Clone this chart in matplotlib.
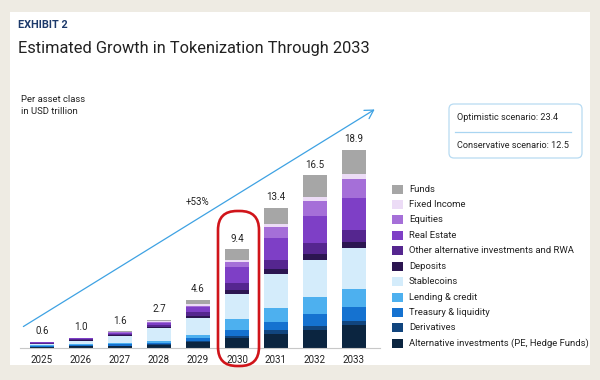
import numpy as np
import matplotlib
matplotlib.use('Agg')
from matplotlib import pyplot as plt
from matplotlib.patches import Rectangle, FancyBboxPatch

plt.rcParams['font.family'] = ['Roboto', 'DejaVu Sans']

years = ['2025', '2026', '2027', '2028', '2029', '2030', '2031', '2032', '2033']
totals = [0.6, 1.0, 1.6, 2.7, 4.6, 9.4, 13.4, 16.5, 18.9]

# stacked bottom -> top
alt_inv  = [0.10, 0.15, 0.20, 0.29, 0.57, 0.95, 1.34, 1.72, 2.20]
deriv    = [0.02, 0.02, 0.03, 0.05, 0.10, 0.15, 0.38, 0.38, 0.40]
treasury = [0.08, 0.10, 0.12, 0.18, 0.31, 0.64, 0.76, 1.15, 1.27]
lending  = [0.05, 0.08, 0.10, 0.15, 0.29, 1.00, 1.37, 1.65, 1.78]
stable   = [0.15, 0.35, 0.72, 1.20, 1.62, 2.45, 3.22, 3.48, 3.88]
deposits = [0.02, 0.03, 0.05, 0.09, 0.12, 0.38, 0.45, 0.57, 0.57]
other    = [0.06, 0.10, 0.12, 0.19, 0.40, 0.62, 0.89, 1.06, 1.17]
real_est = [0.05, 0.08, 0.12, 0.21, 0.47, 1.57, 2.13, 2.55, 3.08]
equities = [0.03, 0.04, 0.06, 0.11, 0.15, 0.41, 1.05, 1.50, 1.78]
fixed    = [0.02, 0.03, 0.04, 0.08, 0.15, 0.23, 0.25, 0.37, 0.45]
funds    = [0.02, 0.02, 0.04, 0.15, 0.42, 1.00, 1.56, 2.07, 2.32]

series = [alt_inv, deriv, treasury, lending, stable, deposits, other,
          real_est, equities, fixed, funds]
labels = ['Alternative investments (PE, Hedge Funds)', 'Derivatives',
          'Treasury & liquidity', 'Lending & credit', 'Stablecoins', 'Deposits',
          'Other alternative investments and RWA', 'Real Estate', 'Equities',
          'Fixed Income', 'Funds']
colors = ['#0b2540', '#11457e', '#1572d0', '#4db0ef', '#d4ecfb', '#2c1651',
          '#55268f', '#7e3fc6', '#a56fd8', '#ecdcf6', '#a6a6a6']

scen_opt = 23.4
scen_con = 12.5

fig = plt.figure(figsize=(6, 3.8), dpi=100)
fig.patch.set_facecolor('#eeebe3')

# background panel
bg = fig.add_axes([0, 0, 1, 1], zorder=0)
bg.set_xlim(0, 600); bg.set_ylim(380, 0); bg.axis('off')
bg.add_patch(Rectangle((10, 12), 580, 353, facecolor='white', edgecolor='none'))

# bars
ax = fig.add_axes([20/600, 32/380, 360/600, 318/380], zorder=1)
ax.patch.set_alpha(0)
x = np.arange(len(years))
bottom = np.zeros(len(years))
for vals, col in zip(series, colors):
    ax.bar(x, vals, width=0.62, bottom=bottom, color=col, edgecolor='none')
    bottom += np.array(vals)
for xi, t in zip(x, totals):
    ax.annotate(f'{t:.1f}', (xi, bottom[xi]), xytext=(0, 4), textcoords='offset points',
                ha='center', va='bottom', fontsize=7, color='#222222')
ax.set_xlim(-0.564, 8.667)
ax.set_ylim(0, 30.34)
ax.set_xticks(x)
ax.set_xticklabels(years, fontsize=7, color='#222222')
ax.tick_params(axis='x', length=0, pad=5)
ax.set_yticks([])
for s in ['top', 'right', 'left']:
    ax.spines[s].set_visible(False)
ax.spines['bottom'].set_color('#c8c8c8')
ax.spines['bottom'].set_linewidth(0.8)

# overlay
ov = fig.add_axes([0, 0, 1, 1], zorder=2)
ov.patch.set_alpha(0)
ov.set_xlim(0, 600); ov.set_ylim(380, 0); ov.axis('off')

ov.text(18, 24.5, 'EXHIBIT 2', fontsize=7.8, fontweight='bold', color='#1d3a6b', va='center')
ov.text(18, 48, 'Estimated Growth in Tokenization Through 2033', fontsize=11.8,
        fontweight='normal', color='#222222', va='center')
ov.text(21, 100, 'Per asset class', fontsize=6.8, color='#222222', va='center')
ov.text(21, 111, 'in USD trillion', fontsize=6.8, color='#222222', va='center')

ov.annotate('', xy=(377, 108), xytext=(21, 328),
            arrowprops=dict(arrowstyle='->,head_length=0.6,head_width=0.35',
                            color='#3ea2e3', lw=0.9))
ov.text(198, 202, '+53%', fontsize=7, color='#222222', ha='center', va='center')

# red highlight loop
ov.add_patch(FancyBboxPatch((218, 211), 41, 155, boxstyle='round,pad=0,rounding_size=19',
                            facecolor='none', edgecolor='#d0141a', lw=1.9))

# scenario box
ov.add_patch(FancyBboxPatch((449, 104), 133, 54, boxstyle='round,pad=0,rounding_size=5',
                            facecolor='white', edgecolor='#b8dbf2', lw=0.9))
ov.plot([455, 571], [131.5, 131.5], color='#a9d5f1', lw=0.9)
ov.text(457, 118, f'Optimistic scenario: {scen_opt}', fontsize=6.6, color='#222222', va='center')
ov.text(457, 146, f'Conservative scenario: {scen_con}', fontsize=6.6, color='#222222', va='center')

# legend (top = last series)
for k, (lab, col) in enumerate(zip(labels[::-1], colors[::-1])):
    yc = 189 + k * 15.43
    ov.add_patch(Rectangle((392, yc - 4.5), 11, 9, facecolor=col, edgecolor='none'))
    ov.text(409, yc, lab, fontsize=6.8, color='#222222', va='center')

plt.savefig('out.png', dpi=100, facecolor=fig.get_facecolor())
